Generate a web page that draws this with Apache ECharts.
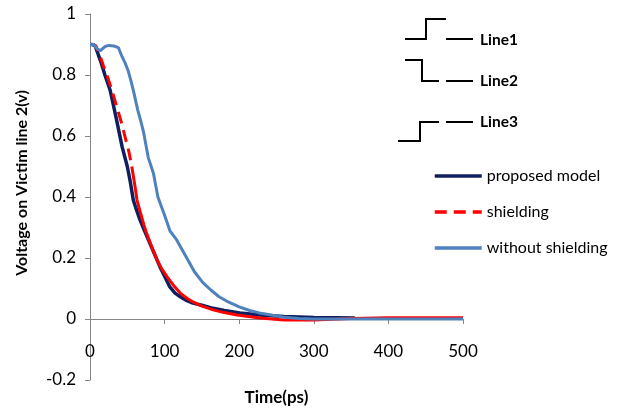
<!DOCTYPE html>
<html><head><meta charset="utf-8">
<script src="https://cdn.jsdelivr.net/npm/echarts@6/dist/echarts.min.js"></script>
<style>html,body{margin:0;padding:0;background:#fff}#c{width:622px;height:415px}</style>
</head><body><div id="c"></div>
<script>
const xTicks = [0, 100, 200, 300, 400, 500];
const yTicks = [-0.2, 0, 0.2, 0.4, 0.6, 0.8, 1];

const proposedT = [0,3,7,15,20,27,35,43,50,54,58,62,67,73,80,87,94,100,107,114,121,130,138,150,165,180,201,228,260,300,330,355];
const proposedV = [0.90,0.90,0.895,0.84,0.80,0.75,0.66,0.565,0.50,0.45,0.39,0.36,0.325,0.29,0.25,0.21,0.17,0.14,0.105,0.085,0.073,0.06,0.052,0.045,0.035,0.028,0.02,0.013,0.008,0.005,0.004,0.003];

const shieldDashT = [0,5,8,13,18,24,30,36,42,47,52,56];
const shieldDashV = [0.90,0.90,0.895,0.866,0.83,0.79,0.745,0.695,0.645,0.597,0.55,0.50];
const shieldT = [56,60,63,68,72,76,83,90,96,103,112,121,130,138,150,165,180,197,228,260,300,350,400,450,500];
const shieldV = [0.50,0.44,0.39,0.345,0.31,0.28,0.235,0.193,0.165,0.14,0.11,0.085,0.068,0.056,0.042,0.03,0.021,0.013,0.003,-0.003,-0.003,0.002,0.004,0.004,0.004];

const withoutT = [0,5,10,14,20,25,32,38,43,47,51,55,59,64,68,72,78,85,91,100,107,116,129,140,151,162,173,186,200,214,227,245,260,280,300,350,400,450,500];
const withoutV = [0.90,0.90,0.885,0.88,0.893,0.897,0.895,0.89,0.86,0.84,0.815,0.78,0.74,0.685,0.65,0.61,0.53,0.478,0.40,0.34,0.29,0.26,0.203,0.155,0.12,0.095,0.073,0.055,0.04,0.028,0.02,0.012,0.006,0.002,0.0,0.0,0.0,0.0,0.0];

const names = ['proposed model', 'shielding', 'without shielding'];
const stepLabels = ['Line1', 'Line2', 'Line3'];

const pairs = (t, v) => t.map((x, i) => [x, v[i]]);
const FONT = 'Lato, "Liberation Sans", sans-serif';

const chart = echarts.init(document.getElementById('c'), null, {renderer: 'canvas'});
const axisGray = '#868686';

chart.setOption({
  animation: false,
  backgroundColor: '#fff',
  grid: {left: 90, right: 159, top: 14, bottom: 35, containLabel: false, outerBoundsMode: 'none'},
  xAxis: {
    type: 'value', min: xTicks[0], max: xTicks[xTicks.length - 1], interval: 100,
    name: 'Time(ps)', nameLocation: 'middle', nameGap: 9,
    nameTextStyle: {fontFamily: FONT, fontSize: 17, fontWeight: 'bold', color: '#000'},
    axisLine: {onZero: true, lineStyle: {color: axisGray, width: 1}},
    axisTick: {show: true, length: 5, inside: false, lineStyle: {color: axisGray}},
    axisLabel: {margin: -37, fontFamily: FONT, fontSize: 17, color: '#000'},
    splitLine: {show: false}
  },
  yAxis: {
    type: 'value', min: yTicks[0], max: yTicks[yTicks.length - 1], interval: 0.2,
    name: 'Voltage on Victim line 2(v)', nameLocation: 'middle', nameGap: 60,
    nameTextStyle: {fontFamily: FONT, fontSize: 16, fontWeight: 'bold', color: '#000', padding: [0, 0, 0, 28]},
    axisLine: {show: true, onZero: false, lineStyle: {color: axisGray, width: 1}},
    axisTick: {show: true, length: 5, lineStyle: {color: axisGray}},
    axisLabel: {margin: 14, fontFamily: FONT, fontSize: 17, color: '#000',
      formatter: v => String(Math.round(v * 10) / 10)},
    splitLine: {show: false}
  },
  legend: {
    orient: 'vertical', left: 428, top: 163, itemGap: 20, itemWidth: 47, itemHeight: 16,
    data: names,
    itemStyle: {opacity: 0},
    lineStyle: {width: 3.5},
    textStyle: {fontFamily: FONT, fontSize: 16, color: '#000'}
  },
  series: [
    {name: names[0], type: 'line', data: pairs(proposedT, proposedV), symbol: 'none',
     lineStyle: {color: '#0d1f5e', width: 3.5}, itemStyle: {color: '#0d1f5e'}, z: 2},
    {name: names[1], type: 'line', data: pairs(shieldDashT, shieldDashV), symbol: 'none',
     lineStyle: {color: '#ff0000', width: 3, type: [12, 7]}, itemStyle: {color: '#ff0000'}, z: 3},
    {name: names[1], type: 'line', data: pairs(shieldT, shieldV), symbol: 'none',
     lineStyle: {color: '#ff0000', width: 3}, itemStyle: {color: '#ff0000'}, z: 3},
    {name: names[2], type: 'line', data: pairs(withoutT, withoutV), symbol: 'none',
     lineStyle: {color: '#4f81bd', width: 3}, itemStyle: {color: '#4f81bd'}, z: 4}
  ],
  graphic: [
    {type: 'polyline', shape: {points: [[405,39],[426,39],[426,19],[446,19]]}, style: {stroke: '#000', lineWidth: 2, fill: null}},
    {type: 'polyline', shape: {points: [[405,60],[422,60],[422,81],[439,81]]}, style: {stroke: '#000', lineWidth: 2, fill: null}},
    {type: 'polyline', shape: {points: [[398,141],[420,141],[420,122],[439,122]]}, style: {stroke: '#000', lineWidth: 2, fill: null}},
    {type: 'line', shape: {x1: 446, y1: 39, x2: 473, y2: 39}, style: {stroke: '#000', lineWidth: 2}},
    {type: 'line', shape: {x1: 446, y1: 81, x2: 473, y2: 81}, style: {stroke: '#000', lineWidth: 2}},
    {type: 'line', shape: {x1: 446, y1: 122, x2: 473, y2: 122}, style: {stroke: '#000', lineWidth: 2}},
    {type: 'text', x: 480, y: 40, style: {text: stepLabels[0], font: 'bold 15.5px ' + FONT, fill: '#000', textVerticalAlign: 'middle'}},
    {type: 'text', x: 480, y: 81, style: {text: stepLabels[1], font: 'bold 15.5px ' + FONT, fill: '#000', textVerticalAlign: 'middle'}},
    {type: 'text', x: 480, y: 122, style: {text: stepLabels[2], font: 'bold 15.5px ' + FONT, fill: '#000', textVerticalAlign: 'middle'}}
  ]
});
</script></body></html>
